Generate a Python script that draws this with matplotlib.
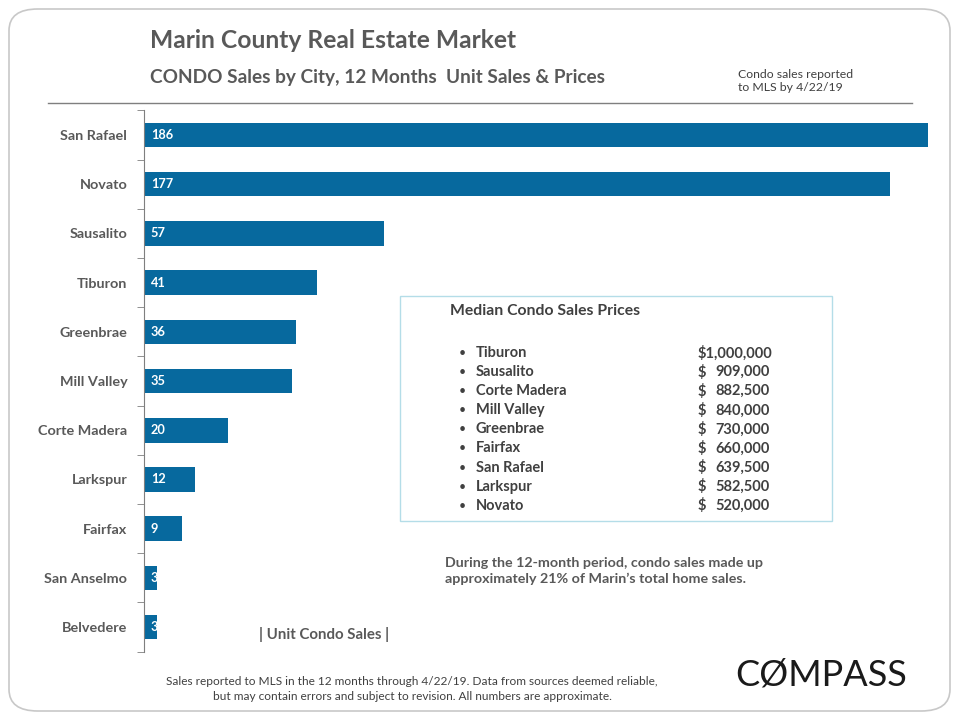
import matplotlib.pyplot as plt
from matplotlib.patches import FancyBboxPatch, Rectangle
from matplotlib.lines import Line2D
import numpy as np

plt.rcParams['font.family'] = ['Lato', 'DejaVu Sans']

cities = ["San Rafael", "Novato", "Sausalito", "Tiburon", "Greenbrae", "Mill Valley",
          "Corte Madera", "Larkspur", "Fairfax", "San Anselmo", "Belvedere"]
unit_sales = [186, 177, 57, 41, 36, 35, 20, 12, 9, 3, 3]

price_cities = ["Tiburon", "Sausalito", "Corte Madera", "Mill Valley", "Greenbrae",
                "Fairfax", "San Rafael", "Larkspur", "Novato"]
median_prices = [1000000, 909000, 882500, 840000, 730000, 660000, 639500, 582500, 520000]

bar_color = "#07699E"
grey = "#595959"
dark = "#404040"

fig = plt.figure(figsize=(9.6, 7.2), dpi=100)
W, H = 960, 720


def fx(px):
    return px / W


def fy(py):
    return 1 - py / H


# rounded frame around the slide
frame = FancyBboxPatch((fx(9), fy(711)), fx(941), 702 / H,
                       boxstyle="round,pad=0,rounding_size=0.03",
                       transform=fig.transFigure, facecolor="none",
                       edgecolor="#C8C8C8", linewidth=1.2)
fig.patches.append(frame)

fig.lines.append(Line2D([fx(48), fx(912)], [fy(103), fy(103)], transform=fig.transFigure,
                        color="#7F7F7F", linewidth=1))

fig.text(fx(150), fy(40), "Marin County Real Estate Market", fontsize=17.7, fontweight="bold",
         color=grey, va="center", ha="left")
fig.text(fx(150), fy(77), "CONDO Sales by City, 12 Months  Unit Sales & Prices", fontsize=13.7,
         fontweight="bold", color=grey, va="center", ha="left")
fig.text(fx(738), fy(81), "Condo sales reported\nto MLS by 4/22/19", fontsize=8.8, color=dark,
         va="center", ha="left", linespacing=1.3)

# bar chart
ax = fig.add_axes([fx(144), fy(651.6), fx(928 - 144), (651.6 - 110.4) / H])
y = np.arange(len(cities))
bars = ax.barh(y, unit_sales, height=0.5, color=bar_color, zorder=2)
ax.set_xlim(0, max(unit_sales))
ax.set_ylim(len(cities) - 0.5, -0.5)
ax.set_yticks(y)
ax.set_yticklabels(cities, fontsize=10.4, fontweight="bold", color=grey)
ax.set_yticks(np.arange(len(cities) + 1) - 0.5, minor=True)
ax.tick_params(axis="y", which="major", length=0, pad=12)
ax.tick_params(axis="y", which="minor", length=5, color="#7F7F7F", direction="out")
ax.set_xticks([])
for s in ["top", "right", "bottom"]:
    ax.spines[s].set_visible(False)
ax.spines["left"].set_color("#7F7F7F")
ax.patch.set_alpha(0)

for bar, v in zip(bars, unit_sales):
    t = ax.text(1.6, bar.get_y() + bar.get_height() / 2, str(v), color="white",
                fontsize=9.2, fontweight="bold", va="center", ha="left", zorder=3)
    t.set_clip_path(bar)

fig.text(fx(259), fy(634), "| Unit Condo Sales |", fontsize=10.8, fontweight="bold",
         color=grey, va="center", ha="left")

# median price box
box = Rectangle((fx(400), fy(521)), fx(432), (521 - 296) / H, transform=fig.transFigure,
                facecolor="white", edgecolor="#B4DDE8", linewidth=1, zorder=3)
fig.patches.append(box)
fig.text(fx(450), fy(311), "Median Condo Sales Prices", fontsize=11.3, fontweight="bold",
         color=dark, va="center", ha="left", zorder=4)
for i, (c, p) in enumerate(zip(price_cities, median_prices)):
    py = 353 + i * 19.1
    fig.text(fx(459), fy(py), "\u2022", fontsize=9, color=dark, va="center", ha="left", zorder=4)
    fig.text(fx(476), fy(py), c, fontsize=10.5, fontweight="bold", color=dark,
             va="center", ha="left", zorder=4)
    if p >= 1000000:
        fig.text(fx(698), fy(py), f"${p:,}", fontsize=10.5, fontweight="bold", color=dark,
                 va="center", ha="left", zorder=4)
    else:
        fig.text(fx(698), fy(py), "$", fontsize=10.5, fontweight="bold", color=dark,
                 va="center", ha="left", zorder=4)
        fig.text(fx(770), fy(py), f"{p:,}", fontsize=10.5, fontweight="bold", color=dark,
                 va="center", ha="right", zorder=4)

fig.text(fx(445), fy(571), "During the 12-month period, condo sales made up\n"
         "approximately 21% of Marin\u2019s total home sales.", fontsize=10.3, fontweight="bold",
         color=grey, va="center", ha="left", linespacing=1.4)

fig.text(fx(412), fy(689), "Sales reported to MLS in the 12 months through 4/22/19. Data from sources deemed reliable,\n"
         "but may contain errors and subject to revision. All numbers are approximate.",
         fontsize=8.6, color=dark, va="center", ha="center", linespacing=1.35)

fig.text(fx(821), fy(675), "C\u00d8MPASS", fontsize=26, color="#1a1a1a", va="center",
         ha="center")

fig.savefig("out.png", dpi=100)
